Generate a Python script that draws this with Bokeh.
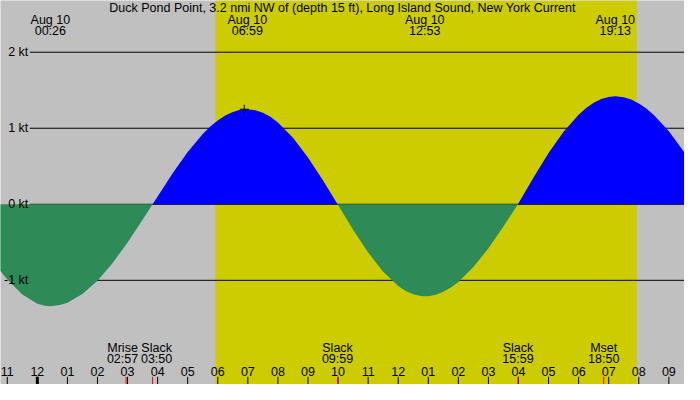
import numpy as np
from bokeh.plotting import figure
from bokeh.models import ColumnDataSource
from bokeh.core.properties import value
from bokeh.embed import file_html
from bokeh.resources import INLINE

# ---------------- data (hours after midnight Aug 10, knots) ----------------
title = "Duck Pond Point, 3.2 nmi NW of (depth 15 ft), Long Island Sound, New York Current"

curve_t = [-1.25, -1.0, -0.5, 0.0, 0.25, 0.433, 0.75, 1.0, 1.5, 2.0, 2.5, 3.0, 3.5, 3.833,
           4.0, 4.5, 5.0, 5.5, 5.75, 6.0, 6.25, 6.5, 6.75, 6.983, 7.25, 7.5, 7.75, 8.0, 8.5, 9.0, 9.5, 9.983,
           10.0, 10.5, 11.0, 11.5, 12.0, 12.25, 12.5, 12.75, 12.883, 13.0, 13.25, 13.5, 13.75,
           14.0, 14.5, 15.0, 15.5, 15.983,
           16.0, 16.5, 17.0, 17.5, 18.0, 18.25, 18.5, 18.75, 19.0, 19.217, 19.5, 19.75,
           20.0, 20.25, 20.5, 21.0, 21.5, 21.75]
curve_v = [-0.866, -0.990, -1.188, -1.307, -1.334, -1.34, -1.326, -1.294, -1.180, -1.004, -0.774, -0.501, -0.205, 0.0,
           0.104, 0.408, 0.687, 0.923, 1.022, 1.103, 1.167, 1.214, 1.242, 1.25, 1.238, 1.205, 1.151, 1.077, 0.876, 0.615, 0.312, 0.0,
           -0.011, -0.334, -0.634, -0.886, -1.074, -1.140, -1.184, -1.207, -1.21, -1.208, -1.189, -1.151, -1.095,
           -1.021, -0.826, -0.578, -0.293, 0.0,
           0.012, 0.353, 0.673, 0.954, 1.179, 1.266, 1.335, 1.383, 1.412, 1.42, 1.408, 1.377,
           1.327, 1.259, 1.175, 0.959, 0.692, 0.542]

max_t = [0.433, 6.983, 12.883, 19.217]
max_date = ["Aug 10", "Aug 10", "Aug 10", "Aug 10"]
max_time = ["00:26", "06:59", "12:53", "19:13"]

event_t = [2.95, 3.833, 9.983, 15.983, 18.833]
event_name = ["Mrise", "Slack", "Slack", "Slack", "Mset"]
event_time = ["02:57", "03:50", "09:59", "15:59", "18:50"]

sunrise_t = [5.92]
sunset_t = [19.93]

marker_t = [6.88]
marker_v = [1.25]

hour_t = list(range(-1, 22))
hour_labels = ["11", "12", "01", "02", "03", "04", "05", "06", "07", "08", "09", "10", "11",
               "12", "01", "02", "03", "04", "05", "06", "07", "08", "09"]
midnight_t = [0]

grid_levels = [-1, 0, 1, 2]
grid_labels = ["-1 kt", "0 kt", "1 kt", "2 kt"]

# ---------------- figure ----------------
X0, X1 = -1.225, 21.52
Y0, Y1 = -2.37, 2.68
FONT = value("Liberation Sans")
FS = "12.5px"

p = figure(width=684, height=384, x_range=(X0, X1), y_range=(Y0, Y1),
           output_backend="svg", toolbar_location=None, min_border=0,
           x_axis_location=None, y_axis_location=None,
           background_fill_color="#C0C0C0", border_fill_color="#C0C0C0")
p.grid.visible = False
p.outline_line_color = None

# daylight
p.quad(left=sunrise_t, right=sunset_t, bottom=[Y0], top=[Y1],
       fill_color="#CCCC00", line_color=None)

# grid lines
p.segment(x0=[-0.25] * len(grid_levels), y0=grid_levels,
          x1=[X1] * len(grid_levels), y1=grid_levels,
          line_color="black", line_width=1)

# current areas
t = np.array(curve_t)
v = np.array(curve_v)
p.varea(x=t, y1=np.zeros_like(v), y2=np.minimum(v, 0), fill_color="#2E8B57")
p.varea(x=t, y1=np.zeros_like(v), y2=np.maximum(v, 0), fill_color="#0000FF")

# marker cross
p.scatter(x=marker_t, y=marker_v, marker="cross", size=9, line_color="black", line_width=1)

# y labels
p.text(x=[-0.299] * len(grid_levels), y=grid_levels, text=grid_labels,
       text_font=FONT, text_font_size=FS, text_align="right",
       text_baseline="middle", text_color="black")

# title
p.text(x=[(X0 + X1) / 2], y=[2.586], text=[title], text_font=FONT, text_font_size=FS,
       text_align="center", text_baseline="middle", text_color="black")

# top max/min labels
p.text(x=max_t, y=[2.428] * len(max_t), text=max_date, text_font=FONT, text_font_size=FS,
       text_align="center", text_baseline="middle", text_color="black")
p.text(x=max_t, y=[2.283] * len(max_t), text=max_time, text_font=FONT, text_font_size=FS,
       text_align="center", text_baseline="middle", text_color="black")

# bottom event labels (small nudges to avoid overlap)
nudge = [-3.5, 4, 0, 0, 0]
ev_src = ColumnDataSource(dict(x=event_t, name=event_name, time=event_time, dx=nudge,
                               y1=[-1.886] * len(event_t), y2=[-2.029] * len(event_t)))
p.text(x="x", y="y1", text="name", x_offset="dx", source=ev_src, text_font=FONT,
       text_font_size=FS, text_align="center", text_baseline="middle", text_color="black")
p.text(x="x", y="y2", text="time", x_offset="dx", source=ev_src, text_font=FONT,
       text_font_size=FS, text_align="center", text_baseline="middle", text_color="black")

# hour labels and ticks
TICK_TOP = -2.269
p.text(x=hour_t, y=[-2.193] * len(hour_t), text=hour_labels, text_font=FONT,
       text_font_size=FS, text_align="center", text_baseline="middle", text_color="black")
p.segment(x0=hour_t, y0=[Y0] * len(hour_t), x1=hour_t, y1=[TICK_TOP] * len(hour_t),
          line_color="black", line_width=1)
p.segment(x0=midnight_t, y0=[Y0], x1=midnight_t, y1=[TICK_TOP],
          line_color="black", line_width=3)
p.segment(x0=event_t, y0=[Y0] * len(event_t), x1=event_t, y1=[TICK_TOP] * len(event_t),
          line_color="red", line_width=1)

open("out.html", "w").write(file_html(p, INLINE))
